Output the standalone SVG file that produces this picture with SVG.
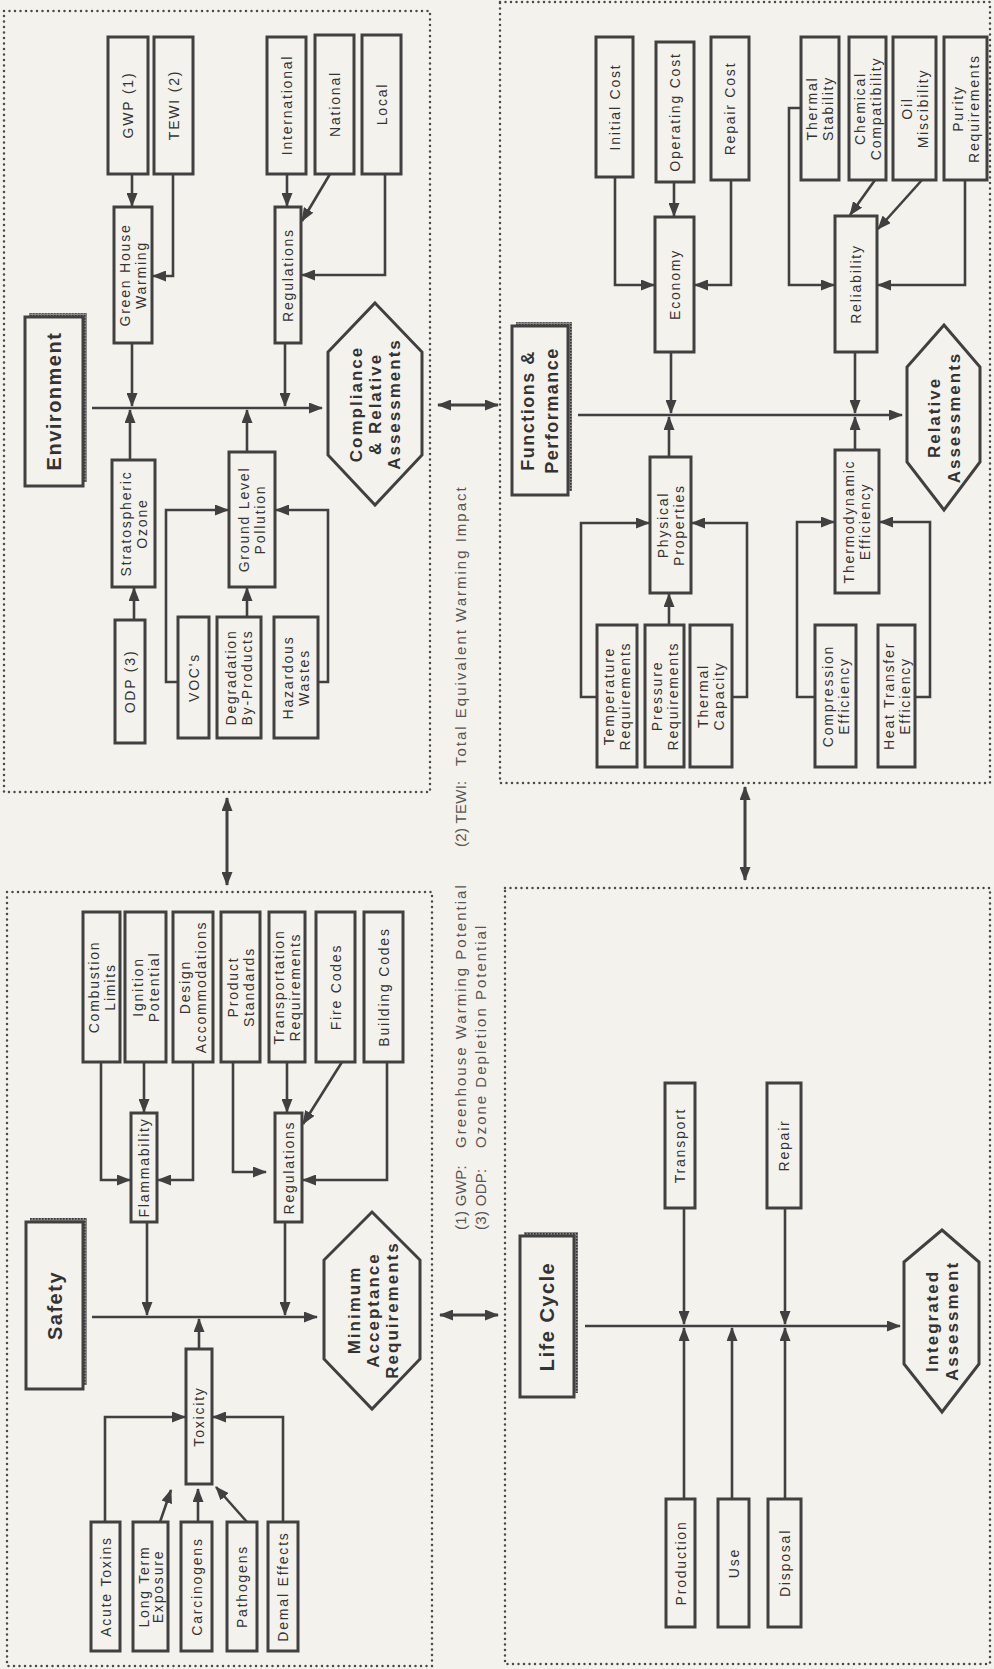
<svg xmlns="http://www.w3.org/2000/svg" width="994" height="1669" viewBox="0 0 994 1669">
<defs>
<marker id="ah" viewBox="0 0 14 11" refX="13" refY="5.5" markerWidth="14" markerHeight="11" markerUnits="userSpaceOnUse" orient="auto-start-reverse"><path d="M0,0 L14,5.5 L0,11 z" fill="#404040"/></marker>
<pattern id="tex" width="3" height="3" patternUnits="userSpaceOnUse"><rect width="3" height="3" fill="#8a8a8a"/><rect width="1.6" height="1.6" fill="#333"/></pattern>
<style>
.bg{fill:#f4f2ec}
.panel{fill:none;stroke:#4a4a4a;stroke-width:2.5;stroke-dasharray:0 5.5;stroke-linecap:round}
.box{fill:#f4f2ec;stroke:#404040;stroke-width:3}
.shadow{fill:url(#tex)}
.hex{fill:#f4f2ec;stroke:#404040;stroke-width:3;stroke-linejoin:miter}
.lbl{font-family:"Liberation Sans",Arial,sans-serif;font-size:14px;letter-spacing:1.8px;fill:#333;text-anchor:middle;dominant-baseline:central}
.ttl{font-family:"Liberation Sans",Arial,sans-serif;font-size:20px;font-weight:bold;letter-spacing:1.5px;fill:#333;text-anchor:middle;dominant-baseline:central}
.ttl2{font-family:"Liberation Sans",Arial,sans-serif;font-size:18px;font-weight:bold;letter-spacing:1.5px;fill:#333;text-anchor:middle;dominant-baseline:central}
.hx{font-family:"Liberation Sans",Arial,sans-serif;font-size:17px;font-weight:bold;letter-spacing:2px;fill:#333;text-anchor:middle;dominant-baseline:central}
.note{font-family:"Liberation Sans",Arial,sans-serif;font-size:15px;letter-spacing:2px;fill:#555}
.notek{font-family:"Liberation Sans",Arial,sans-serif;font-size:15px;letter-spacing:0.3px;fill:#555}
.wire{fill:none;stroke:#404040;stroke-width:2.6;marker-end:url(#ah)}
.wire2{fill:none;stroke:#404040;stroke-width:3;marker-start:url(#ah);marker-end:url(#ah)}
</style>
</defs>
<rect class="bg" x="0" y="0" width="994" height="1669"/>

<g id="panels">
<rect class="panel" x="4" y="11" width="426" height="781"/>
<rect class="panel" x="500" y="2" width="490" height="781"/>
<rect class="panel" x="7" y="892" width="425" height="774"/>
<rect class="panel" x="505" y="888" width="485" height="776"/>
</g>

<g id="footnotes">
<text class="notek" transform="translate(466,1230) rotate(-90)">(1) GWP:</text>
<text class="note" transform="translate(466,1148) rotate(-90)">Greenhouse Warming Potential</text>
<text class="notek" transform="translate(486,1230) rotate(-90)">(3) ODP:</text>
<text class="note" transform="translate(486,1148) rotate(-90)">Ozone Depletion Potential</text>
<text class="notek" transform="translate(466,847) rotate(-90)">(2) TEWI:</text>
<text class="note" transform="translate(466,766) rotate(-90)">Total Equivalent Warming Impact</text>
</g>

<g id="connectors">
<path class="wire" d="M132,174 V206"/>
<path class="wire" d="M173,174 V276 H153"/>
<path class="wire" d="M132,343 V406"/>
<path class="wire" d="M287,174 V206"/>
<path class="wire" d="M330,174 L302,221"/>
<path class="wire" d="M385,174 V275 H302"/>
<path class="wire" d="M285,343 V406"/>
<path class="wire" d="M92,408 H322"/>
<path class="wire" d="M130,460 V410"/>
<path class="wire" d="M134,620 V588"/>
<path class="wire" d="M247,452 V410"/>
<path class="wire" d="M178,682 H166 V510 H228"/>
<path class="wire" d="M247,617 V588"/>
<path class="wire" d="M318,682 H328 V510 H276"/>
<path class="wire" d="M615,177 V285 H654"/>
<path class="wire" d="M674,182 V216"/>
<path class="wire" d="M731,180 V285 H695"/>
<path class="wire" d="M671,352 V413"/>
<path class="wire" d="M578,415 H902"/>
<path class="wire" d="M801,108 H789 V285 H834"/>
<path class="wire" d="M875,180 L850,215"/>
<path class="wire" d="M922,180 L878,229"/>
<path class="wire" d="M965,180 V285 H878"/>
<path class="wire" d="M855,352 V413"/>
<path class="wire" d="M669,457 V417"/>
<path class="wire" d="M597,697 H581 V523 H649"/>
<path class="wire" d="M669,625 V594"/>
<path class="wire" d="M732,697 H747 V523 H692"/>
<path class="wire" d="M855,450 V417"/>
<path class="wire" d="M815,697 H797 V522 H834"/>
<path class="wire" d="M915,697 H930 V522 H880"/>
<path class="wire" d="M101,1062 V1180 H130"/>
<path class="wire" d="M144,1062 V1112"/>
<path class="wire" d="M193,1062 V1180 H158"/>
<path class="wire" d="M233,1062 V1172 H266"/>
<path class="wire" d="M287,1062 V1112"/>
<path class="wire" d="M342,1062 L303,1124"/>
<path class="wire" d="M387,1062 V1180 H303"/>
<path class="wire" d="M147,1222 V1315"/>
<path class="wire" d="M285,1222 V1315"/>
<path class="wire" d="M92,1317 H317"/>
<path class="wire" d="M199,1349 V1319"/>
<path class="wire" d="M105,1522 V1417 H185"/>
<path class="wire" d="M160,1522 L171,1490"/>
<path class="wire" d="M198,1522 V1489"/>
<path class="wire" d="M247,1522 L216,1487"/>
<path class="wire" d="M283,1522 V1417 H213"/>
<path class="wire" d="M684,1208 V1324"/>
<path class="wire" d="M785,1208 V1324"/>
<path class="wire" d="M684,1499 V1328"/>
<path class="wire" d="M732,1499 V1328"/>
<path class="wire" d="M785,1499 V1328"/>
<path class="wire" d="M585,1326 H900"/>
<path class="wire2" d="M227,798 V885"/>
<path class="wire2" d="M438,405 H498"/>
<path class="wire2" d="M745,787 V880"/>
<path class="wire2" d="M440,1315 H498"/>
</g>

<g id="t-environment"><rect class="shadow" x="29" y="313" width="58" height="169"/><rect class="box" x="25" y="317" width="58" height="169"/><text class="ttl" transform="translate(54,401) rotate(-90)">Environment</text></g>
<g id="n-gwp"><rect class="box" x="108" y="37" width="40" height="137"/><text class="lbl" transform="translate(128,105) rotate(-90)">GWP (1)</text></g>
<g id="n-tewi"><rect class="box" x="154" y="37" width="39" height="137"/><text class="lbl" transform="translate(173.5,105) rotate(-90)">TEWI (2)</text></g>
<g id="n-ghw"><rect class="box" x="114" y="207" width="38" height="136"/><text class="lbl" transform="translate(133,275) rotate(-90)"><tspan x="0" y="-8">Green House</tspan><tspan x="0" y="8">Warming</tspan></text></g>
<g id="n-international"><rect class="box" x="267" y="37" width="39" height="137"/><text class="lbl" transform="translate(286.5,105) rotate(-90)">International</text></g>
<g id="n-national"><rect class="box" x="315" y="35" width="39" height="139"/><text class="lbl" transform="translate(334.5,104) rotate(-90)">National</text></g>
<g id="n-local"><rect class="box" x="362" y="35" width="39" height="139"/><text class="lbl" transform="translate(381.5,104) rotate(-90)">Local</text></g>
<g id="n-env-regulations"><rect class="box" x="275" y="207" width="26" height="136"/><text class="lbl" transform="translate(288,275) rotate(-90)">Regulations</text></g>
<g id="n-strat"><rect class="box" x="112" y="460" width="43" height="127"/><text class="lbl" transform="translate(133.5,523.5) rotate(-90)"><tspan x="0" y="-8">Stratospheric</tspan><tspan x="0" y="8">Ozone</tspan></text></g>
<g id="n-odp"><rect class="box" x="115" y="620" width="30" height="123"/><text class="lbl" transform="translate(130,681.5) rotate(-90)">ODP (3)</text></g>
<g id="n-glp"><rect class="box" x="229" y="452" width="46" height="135"/><text class="lbl" transform="translate(252,519.5) rotate(-90)"><tspan x="0" y="-8">Ground Level</tspan><tspan x="0" y="8">Pollution</tspan></text></g>
<g id="n-voc"><rect class="box" x="178" y="617" width="31" height="121"/><text class="lbl" transform="translate(193.5,677.5) rotate(-90)">VOC's</text></g>
<g id="n-degradation"><rect class="box" x="217" y="617" width="44" height="121"/><text class="lbl" transform="translate(239,677.5) rotate(-90)"><tspan x="0" y="-8">Degradation</tspan><tspan x="0" y="8">By-Products</tspan></text></g>
<g id="n-hazardous"><rect class="box" x="274" y="617" width="44" height="121"/><text class="lbl" transform="translate(296,677.5) rotate(-90)"><tspan x="0" y="-8">Hazardous</tspan><tspan x="0" y="8">Wastes</tspan></text></g>
<g id="n-compliance"><polygon class="hex" points="375,303 422,352 422,455 375,505 328,455 328,352"/><text class="hx" transform="translate(375,404) rotate(-90)"><tspan x="0" y="-19">Compliance</tspan><tspan x="0" y="0">&amp; Relative</tspan><tspan x="0" y="19">Assessments</tspan></text></g>

<g id="t-functions"><rect class="shadow" x="516" y="322" width="56" height="169"/><rect class="box" x="512" y="326" width="56" height="169"/><text class="ttl2" transform="translate(540,410.5) rotate(-90)"><tspan x="0" y="-12">Functions &amp;</tspan><tspan x="0" y="12">Performance</tspan></text></g>
<g id="n-initial"><rect class="box" x="596" y="37" width="37" height="140"/><text class="lbl" transform="translate(614.5,107) rotate(-90)">Initial Cost</text></g>
<g id="n-operating"><rect class="box" x="656" y="42" width="38" height="140"/><text class="lbl" transform="translate(675,112) rotate(-90)">Operating Cost</text></g>
<g id="n-repaircost"><rect class="box" x="711" y="37" width="38" height="143"/><text class="lbl" transform="translate(730,108.5) rotate(-90)">Repair Cost</text></g>
<g id="n-economy"><rect class="box" x="655" y="217" width="39" height="135"/><text class="lbl" transform="translate(674.5,284.5) rotate(-90)">Economy</text></g>
<g id="n-thermalstab"><rect class="box" x="801" y="37" width="38" height="143"/><text class="lbl" transform="translate(820,108.5) rotate(-90)"><tspan x="0" y="-8">Thermal</tspan><tspan x="0" y="8">Stability</tspan></text></g>
<g id="n-chemical"><rect class="box" x="849" y="37" width="37" height="143"/><text class="lbl" transform="translate(867.5,108.5) rotate(-90)"><tspan x="0" y="-8">Chemical</tspan><tspan x="0" y="8">Compatibility</tspan></text></g>
<g id="n-oil"><rect class="box" x="893" y="37" width="43" height="143"/><text class="lbl" transform="translate(914.5,108.5) rotate(-90)"><tspan x="0" y="-8">Oil</tspan><tspan x="0" y="8">Miscibility</tspan></text></g>
<g id="n-purity"><rect class="box" x="944" y="37" width="43" height="143"/><text class="lbl" transform="translate(965.5,108.5) rotate(-90)"><tspan x="0" y="-8">Purity</tspan><tspan x="0" y="8">Requirements</tspan></text></g>
<g id="n-reliability"><rect class="box" x="835" y="216" width="42" height="136"/><text class="lbl" transform="translate(856,284) rotate(-90)">Reliability</text></g>
<g id="n-relative"><polygon class="hex" points="944,325 980,367 980,462 944,510 907,462 907,367"/><text class="hx" transform="translate(943.5,417.5) rotate(-90)"><tspan x="0" y="-10">Relative</tspan><tspan x="0" y="10">Assessments</tspan></text></g>
<g id="n-physical"><rect class="box" x="650" y="457" width="41" height="136"/><text class="lbl" transform="translate(670.5,525) rotate(-90)"><tspan x="0" y="-8">Physical</tspan><tspan x="0" y="8">Properties</tspan></text></g>
<g id="n-temperature"><rect class="box" x="597" y="625" width="40" height="142"/><text class="lbl" transform="translate(617,696) rotate(-90)"><tspan x="0" y="-8">Temperature</tspan><tspan x="0" y="8">Requirements</tspan></text></g>
<g id="n-pressure"><rect class="box" x="645" y="625" width="39" height="142"/><text class="lbl" transform="translate(664.5,696) rotate(-90)"><tspan x="0" y="-8">Pressure</tspan><tspan x="0" y="8">Requirements</tspan></text></g>
<g id="n-thermalcap"><rect class="box" x="690" y="625" width="42" height="142"/><text class="lbl" transform="translate(711,696) rotate(-90)"><tspan x="0" y="-8">Thermal</tspan><tspan x="0" y="8">Capacity</tspan></text></g>
<g id="n-thermo"><rect class="box" x="835" y="450" width="44" height="143"/><text class="lbl" transform="translate(857,521.5) rotate(-90)"><tspan x="0" y="-8">Thermodynamic</tspan><tspan x="0" y="8">Efficiency</tspan></text></g>
<g id="n-compression"><rect class="box" x="815" y="625" width="41" height="142"/><text class="lbl" transform="translate(835.5,696) rotate(-90)"><tspan x="0" y="-8">Compression</tspan><tspan x="0" y="8">Efficiency</tspan></text></g>
<g id="n-heattransfer"><rect class="box" x="878" y="625" width="37" height="142"/><text class="lbl" transform="translate(896.5,696) rotate(-90)"><tspan x="0" y="-8">Heat Transfer</tspan><tspan x="0" y="8">Efficiency</tspan></text></g>

<g id="t-safety"><rect class="shadow" x="30" y="1218" width="57" height="167"/><rect class="box" x="26" y="1222" width="57" height="167"/><text class="ttl" transform="translate(54.5,1305.5) rotate(-90)">Safety</text></g>
<g id="n-combustion"><rect class="box" x="83" y="912" width="37" height="150"/><text class="lbl" transform="translate(101.5,987) rotate(-90)"><tspan x="0" y="-8">Combustion</tspan><tspan x="0" y="8">Limits</tspan></text></g>
<g id="n-ignition"><rect class="box" x="125" y="912" width="41" height="150"/><text class="lbl" transform="translate(145.5,987) rotate(-90)"><tspan x="0" y="-8">Ignition</tspan><tspan x="0" y="8">Potential</tspan></text></g>
<g id="n-design"><rect class="box" x="173" y="912" width="40" height="150"/><text class="lbl" transform="translate(193,987) rotate(-90)"><tspan x="0" y="-8">Design</tspan><tspan x="0" y="8">Accommodations</tspan></text></g>
<g id="n-product"><rect class="box" x="221" y="912" width="39" height="150"/><text class="lbl" transform="translate(240.5,987) rotate(-90)"><tspan x="0" y="-8">Product</tspan><tspan x="0" y="8">Standards</tspan></text></g>
<g id="n-transportation"><rect class="box" x="269" y="912" width="36" height="150"/><text class="lbl" transform="translate(287,987) rotate(-90)"><tspan x="0" y="-8">Transportation</tspan><tspan x="0" y="8">Requirements</tspan></text></g>
<g id="n-fire"><rect class="box" x="316" y="912" width="39" height="150"/><text class="lbl" transform="translate(335.5,987) rotate(-90)">Fire Codes</text></g>
<g id="n-building"><rect class="box" x="364" y="912" width="39" height="150"/><text class="lbl" transform="translate(383.5,987) rotate(-90)">Building Codes</text></g>
<g id="n-flammability"><rect class="box" x="131" y="1113" width="26" height="109"/><text class="lbl" transform="translate(144,1167.5) rotate(-90)">Flammability</text></g>
<g id="n-saf-regulations"><rect class="box" x="275" y="1113" width="27" height="109"/><text class="lbl" transform="translate(288.5,1167.5) rotate(-90)">Regulations</text></g>
<g id="n-minimum"><polygon class="hex" points="372,1212 420,1260 420,1359 372,1409 324,1359 324,1260"/><text class="hx" transform="translate(373,1310) rotate(-90)"><tspan x="0" y="-19">Minimum</tspan><tspan x="0" y="0">Acceptance</tspan><tspan x="0" y="19">Requirements</tspan></text></g>
<g id="n-toxicity"><rect class="box" x="186" y="1349" width="26" height="135"/><text class="lbl" transform="translate(199,1416.5) rotate(-90)">Toxicity</text></g>
<g id="n-acute"><rect class="box" x="91" y="1522" width="29" height="129"/><text class="lbl" transform="translate(105.5,1586.5) rotate(-90)">Acute Toxins</text></g>
<g id="n-longterm"><rect class="box" x="133" y="1522" width="35" height="129"/><text class="lbl" transform="translate(150.5,1586.5) rotate(-90)"><tspan x="0" y="-7">Long Term</tspan><tspan x="0" y="7">Exposure</tspan></text></g>
<g id="n-carcinogens"><rect class="box" x="181" y="1522" width="31" height="129"/><text class="lbl" transform="translate(196.5,1586.5) rotate(-90)">Carcinogens</text></g>
<g id="n-pathogens"><rect class="box" x="227" y="1522" width="30" height="129"/><text class="lbl" transform="translate(242,1586.5) rotate(-90)">Pathogens</text></g>
<g id="n-demal"><rect class="box" x="268" y="1522" width="30" height="129"/><text class="lbl" transform="translate(283,1586.5) rotate(-90)">Demal Effects</text></g>

<g id="t-lifecycle"><rect class="shadow" x="524" y="1232" width="54" height="161"/><rect class="box" x="520" y="1236" width="54" height="161"/><text class="ttl" transform="translate(547,1316.5) rotate(-90)">Life Cycle</text></g>
<g id="n-transport"><rect class="box" x="665" y="1083" width="30" height="125"/><text class="lbl" transform="translate(680,1145.5) rotate(-90)">Transport</text></g>
<g id="n-repair"><rect class="box" x="767" y="1083" width="34" height="125"/><text class="lbl" transform="translate(784,1145.5) rotate(-90)">Repair</text></g>
<g id="n-production"><rect class="box" x="666" y="1499" width="29" height="128"/><text class="lbl" transform="translate(680.5,1563) rotate(-90)">Production</text></g>
<g id="n-use"><rect class="box" x="718" y="1499" width="31" height="128"/><text class="lbl" transform="translate(733.5,1563) rotate(-90)">Use</text></g>
<g id="n-disposal"><rect class="box" x="768" y="1499" width="33" height="128"/><text class="lbl" transform="translate(784.5,1563) rotate(-90)">Disposal</text></g>
<g id="n-integrated"><polygon class="hex" points="942,1230 979,1262 979,1364 942,1412 904,1364 904,1262"/><text class="hx" transform="translate(941.5,1321) rotate(-90)"><tspan x="0" y="-10">Integrated</tspan><tspan x="0" y="10">Assessment</tspan></text></g>
</svg>
